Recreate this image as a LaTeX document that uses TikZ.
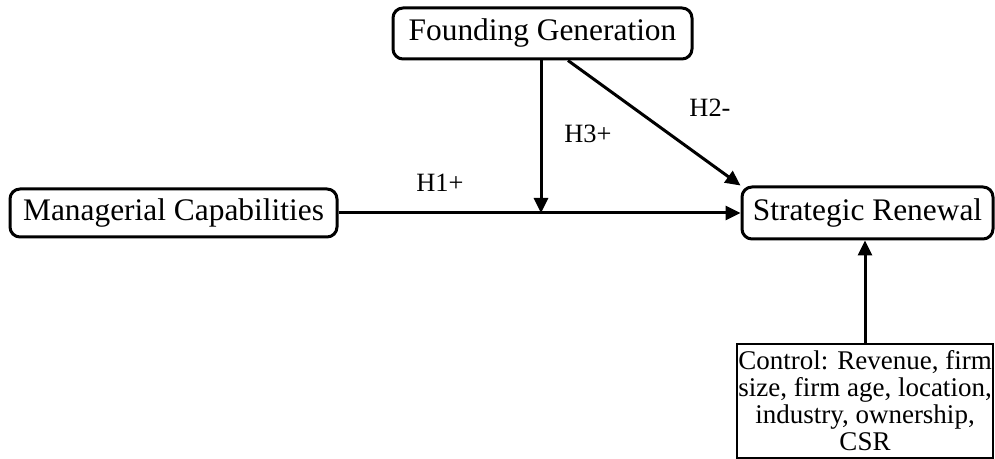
\documentclass[tikz,border=0pt]{standalone}
\usepackage{fontspec}
\setmainfont{Liberation Serif}
\usepackage{tikz}
\usetikzlibrary{arrows.meta,positioning,calc}

\tikzset{
    construct/.style={draw, line width=1.5pt, rounded corners=5pt, inner sep=0pt, font=\fontsize{15.7}{18}\selectfont},
    controlbox/.style={draw, line width=1.2pt, inner sep=0.5pt, align=center, font=\fontsize{13.5}{13.5}\selectfont},
    hyp/.style={font=\fontsize{13.2}{15}\selectfont},
    link/.style={line width=1.5pt, -{Triangle[length=7.5pt,width=7pt]}}
}

\begin{document}
\begin{tikzpicture}[x=0.5pt,y=-0.5pt]
    \useasboundingbox (0,0) rectangle (995,459);

    % Constructs
    \node[construct, minimum width=149.5pt, minimum height=25.5pt] (fg) at (542.5,33.5) {Founding Generation};
    \node[construct, minimum width=163.5pt, minimum height=24pt] (mc) at (173.5,213) {Managerial Capabilities};
    \node[construct, minimum width=125.5pt, minimum height=26pt] (sr) at (867.5,213) {Strategic Renewal};
    \node[controlbox, minimum width=128pt, minimum height=57pt] (ctrl) at (865,401) {Control: Revenue, firm\\size, firm age, location,\\industry, ownership,\\CSR};

    % Paths
    \coordinate (mod) at (541,213);
    \draw[link] (mc) -- (sr);
    \draw[link] (fg.south -| mod) -- (mod);
    \draw[link] ([xshift=12.75pt]fg.south) -- (sr.north west);
    \draw[link] (ctrl.north) -- (ctrl.north |- sr.south);

    % Labels
    \node[hyp] (h1) at (440,183) {H1+};
    \node[hyp] (h3) at (588,134) {H3+};
    \node[hyp] (h2) at (710,108) {H2-};
\end{tikzpicture}
\end{document}
